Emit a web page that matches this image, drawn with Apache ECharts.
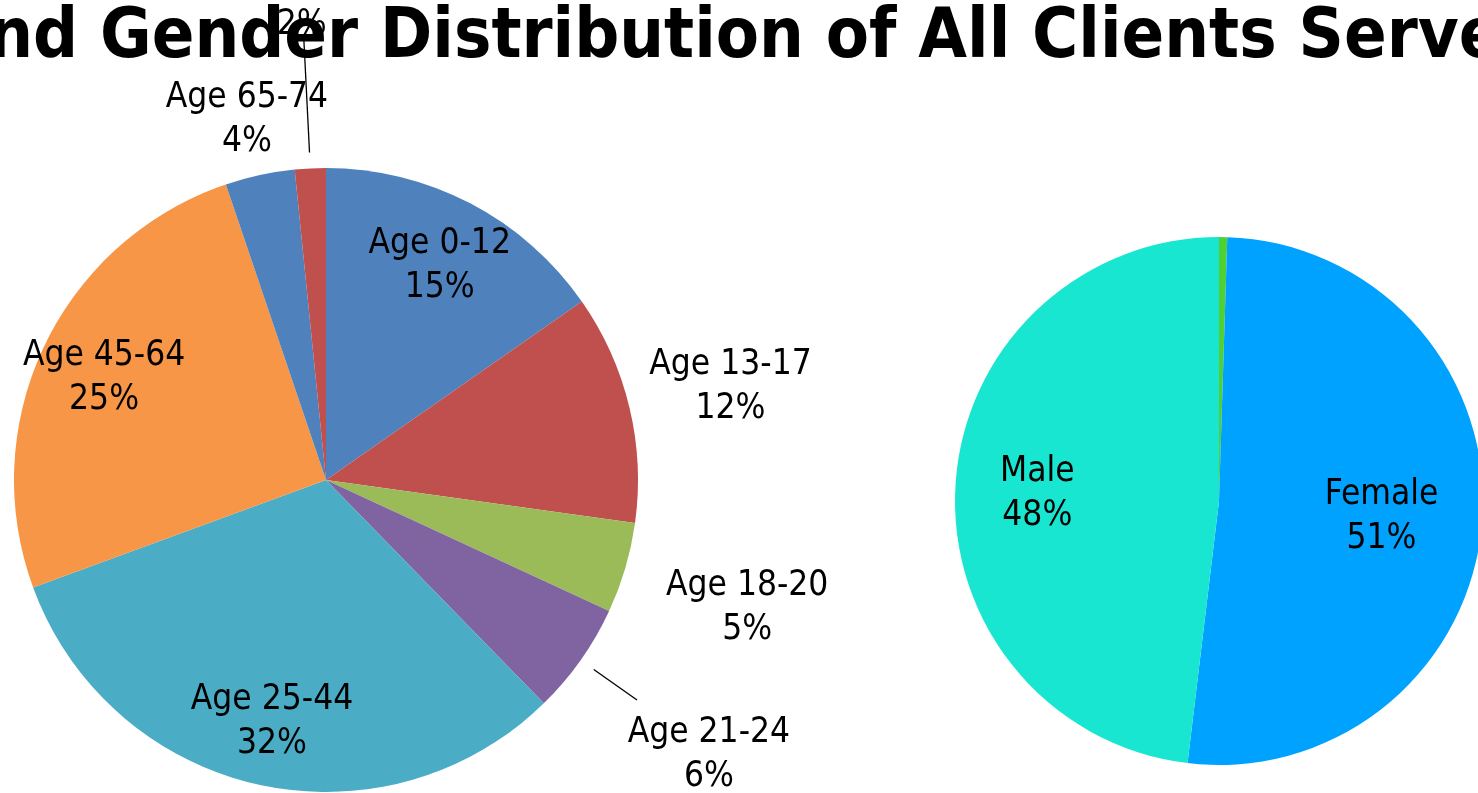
<!DOCTYPE html>
<html>
<head>
<meta charset="utf-8">
<script src="https://cdn.jsdelivr.net/npm/echarts@6/dist/echarts.min.js"></script>
<style>
    html, body { margin: 0; padding: 0; background: #fff; }
    #chart { width: 1478px; height: 793px; }
</style>
</head>
<body>
<div id="chart"></div>
<script>
// data (percent of all clients)
var ageNames = ['Age 0-12', 'Age 13-17', 'Age 18-20', 'Age 21-24', 'Age 25-44', 'Age 45-64', 'Age 65-74', 'Age 75+'];
var ageValues = [15.3, 11.9, 4.7, 5.8, 31.7, 25.4, 3.6, 1.6];
var genderNames = ['Unknown', 'Female', 'Male'];
var genderValues = [0.5, 51.4, 48.1];

var ageColors = ['#4F81BD', '#C0504D', '#9BBB59', '#8064A2', '#4BACC6', '#F79646', '#4F81BD', '#C0504D'];
var genderColors = ['#4FD134', '#00A2FF', '#19E6D0'];

var labelFont = 'DejaVu Sans Condensed';
var titleText = 'Age and Gender Distribution of All Clients Served';
var titleSize = 70;

// where each label sits (distance from pie centre, px)
var ageLabelR = [246, 416, 439, 469, 244, 246, 373, 482];
var ageLineR = [null, null, null, [328, 381], null, null, null, [328, 440]];
var genderLabelR = [0, 163, 182];
var labelNudgeY = 4;

// the title is wider than the slide, so it is pinned so that "Gender" starts at x=95
function titleLeft() {
    var ctx = document.createElement('canvas').getContext('2d');
    ctx.font = 'bold ' + titleSize + 'px "' + labelFont + '"';
    return 95 - ctx.measureText('Age and ').width;
}

//把标签放在扇区中线上
function radialLayout(values, cx, cy, radii, lines) {
    var total = values.reduce(function (a, b) { return a + b; }, 0);
    return function (params) {
        var i = params.dataIndex;
        var before = 0;
        for (var k = 0; k < i; k++) before += values[k];
        var a = (before + values[i] / 2) / total * Math.PI * 2;
        var sx = Math.sin(a), sy = -Math.cos(a);
        var r = radii[i];
        var out = {
            x: cx + r * sx,
            y: cy + r * sy + labelNudgeY,
            align: 'center',
            verticalAlign: 'middle'
        };
        if (lines && lines[i]) {
            var p0 = [cx + lines[i][0] * sx, cy + lines[i][0] * sy];
            var p1 = [cx + lines[i][1] * sx, cy + lines[i][1] * sy];
            out.labelLinePoints = [p0, p1, p1];
        }
        return out;
    };
}

function pctLabel(params) {
    return params.name + '\n' + Math.round(params.percent) + '%';
}

var ageData = ageNames.map(function (n, i) {
    var item = { name: n, value: ageValues[i], itemStyle: { color: ageColors[i] } };
    if (ageLineR[i]) {
        item.labelLine = { show: true, lineStyle: { color: '#000', width: 1.3 } };
    }
    return item;
});

var genderData = genderNames.map(function (n, i) {
    var item = { name: n, value: genderValues[i], itemStyle: { color: genderColors[i] } };
    if (i === 0) item.label = { show: false };
    return item;
});

var labelStyle = {
    show: true,
    position: 'outside',
    formatter: pctLabel,
    fontFamily: labelFont,
    fontSize: 35,
    lineHeight: 44,
    color: '#000'
};

var chart = echarts.init(document.getElementById('chart'));
chart.setOption({
    animation: false,
    title: {
        text: titleText,
        left: titleLeft(),
        top: -1,
        textStyle: {
            fontFamily: labelFont,
            fontWeight: 'bold',
            fontSize: titleSize,
            color: '#000'
        }
    },
    series: [{
        type: 'pie',
        center: [326, 480],
        radius: [0, 312],
        startAngle: 90,
        clockwise: true,
        avoidLabelOverlap: false,
        itemStyle: { borderWidth: 0 },
        label: labelStyle,
        labelLine: { show: false },
        labelLayout: radialLayout(ageValues, 326, 480, ageLabelR, ageLineR),
        emphasis: { disabled: true },
        data: ageData
    }, {
        type: 'pie',
        center: [1219, 501],
        radius: [0, 264],
        startAngle: 90,
        clockwise: true,
        avoidLabelOverlap: false,
        itemStyle: { borderWidth: 0 },
        label: labelStyle,
        labelLine: { show: false },
        labelLayout: radialLayout(genderValues, 1219, 501, genderLabelR, null),
        emphasis: { disabled: true },
        data: genderData
    }]
});
</script>
</body>
</html>
